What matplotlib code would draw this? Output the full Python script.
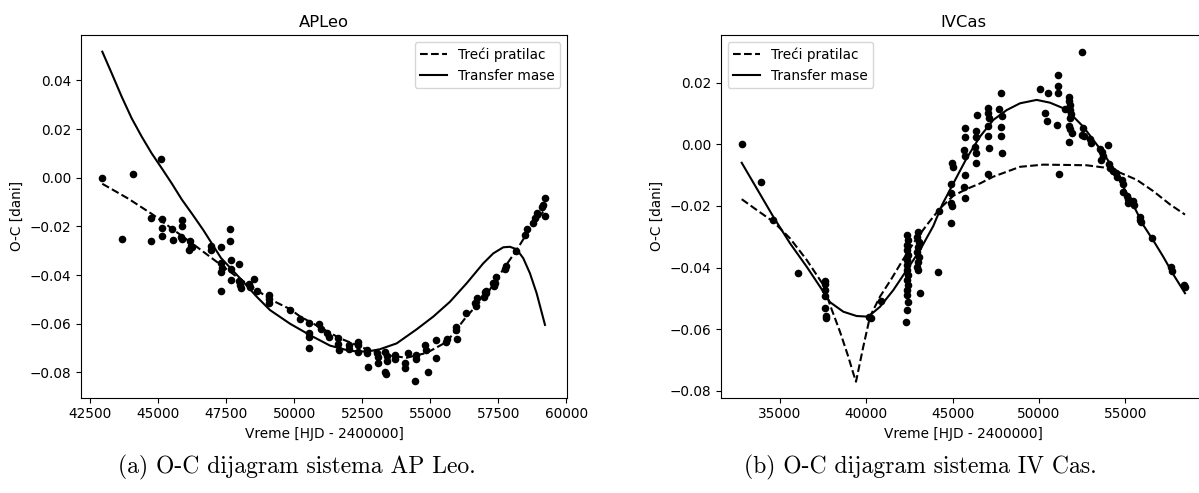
import matplotlib
matplotlib.use("Agg")
import matplotlib.pyplot as plt

# ---------------- AP Leo ----------------
apleo_t = [42941, 43676, 44081, 45088, 44721, 44732, 45147, 45147, 45125, 45504,
           45529, 45860, 45871, 45835, 45860, 46165, 46191, 46140, 46250, 46938,
           46938, 47305, 47647, 47647, 47684, 47294, 47331, 47305, 47684, 47978,
           47305, 47673, 47978, 48004, 48029, 48335, 48371, 48529, 48640, 49059,
           49059, 49081, 49842, 50210, 50551, 50540, 50540, 50551, 50919, 50971,
           51191, 51276, 51618, 51618, 51632, 51999, 52022, 52342, 52353, 52342,
           52684, 52684, 52699, 53051, 53088, 53066, 53346, 53397, 53397, 53335,
           53360, 53702, 53713, 54059, 54070, 54169, 54463, 54474, 54438, 54805,
           54842, 54904, 55210, 55210, 55566, 55625, 55934, 55945, 55971, 56324,
           56643, 56680, 56728, 57048, 57048, 57316, 59217, 59154, 59096, 59206,
           58912, 58849, 58787, 58544, 58482, 58151, 57783, 57746, 57415, 57379,
           57342, 57011, 56974]
apleo_oc = [0.0000, -0.0253, 0.0015, 0.0076, -0.0167, -0.0259, -0.0171, -0.0206, -0.0238, -0.0211,
            -0.0256, -0.0175, -0.0199, -0.0242, -0.0253, -0.0261, -0.0281, -0.0298, -0.0284, -0.0279,
            -0.0297, -0.0286, -0.0210, -0.0259, -0.0337, -0.0352, -0.0370, -0.0388, -0.0374, -0.0353,
            -0.0464, -0.0420, -0.0423, -0.0441, -0.0452, -0.0438, -0.0448, -0.0415, -0.0464, -0.0482,
            -0.0500, -0.0514, -0.0544, -0.0582, -0.0598, -0.0637, -0.0656, -0.0700, -0.0603, -0.0623,
            -0.0637, -0.0656, -0.0658, -0.0684, -0.0708, -0.0686, -0.0705, -0.0674, -0.0689, -0.0716,
            -0.0708, -0.0719, -0.0779, -0.0719, -0.0738, -0.0763, -0.0715, -0.0733, -0.0752, -0.0797,
            -0.0808, -0.0729, -0.0744, -0.0760, -0.0783, -0.0719, -0.0729, -0.0746, -0.0836, -0.0688,
            -0.0708, -0.0797, -0.0667, -0.0740, -0.0675, -0.0664, -0.0612, -0.0626, -0.0664, -0.0557,
            -0.0514, -0.0526, -0.0496, -0.0475, -0.0464, -0.0432, -0.0082, -0.0112, -0.0122, -0.0157,
            -0.0146, -0.0167, -0.0185, -0.0211, -0.0237, -0.0301, -0.0362, -0.0376, -0.0409, -0.0432,
            -0.0445, -0.0469, -0.0489]

apleo_lt_t = [42941, 43897, 44816, 46411, 47882, 49168, 49841, 50209, 50944, 51679,
              52660, 53396, 54131, 54866, 55601, 56336, 57071, 57746, 58175, 58481,
              59030, 59217]
apleo_lt_oc = [-0.0025, -0.0086, -0.0153, -0.0284, -0.0407, -0.0503, -0.0540, -0.0570, -0.0615, -0.0660,
               -0.0705, -0.0730, -0.0740, -0.0720, -0.0675, -0.0570, -0.0480, -0.0366, -0.0297, -0.0242,
               -0.0160, -0.0126]

apleo_mt_t = [42941, 43287, 43654, 44022, 44389, 44757, 45125, 45492, 45860, 46250,
              46654, 47305, 48003, 48617, 49106, 49841, 50576, 51311, 52047, 52661,
              53147, 53763, 54500, 55109, 55722, 56336, 56947, 57316, 57683, 57928,
              58173, 58418, 58664, 58910, 59217]
apleo_mt_oc = [0.0518, 0.0429, 0.0333, 0.0244, 0.0169, 0.0100, 0.0039, -0.0023, -0.0089, -0.0150,
               -0.0215, -0.0330, -0.0413, -0.0489, -0.0544, -0.0600, -0.0647, -0.0690, -0.0712, -0.0715,
               -0.0705, -0.0681, -0.0623, -0.0571, -0.0510, -0.0434, -0.0352, -0.0311, -0.0286, -0.0284,
               -0.0294, -0.0331, -0.0393, -0.0475, -0.0605]

# ---------------- IV Cas ----------------
ivcas_t = [32790, 33900, 34612, 36025, 37606, 37606, 37606, 37606, 37624, 37647,
           37647, 40172, 40271, 40870,
           42338, 42400, 42360, 42338, 42400, 42338, 42380, 42338, 42420, 42338,
           42400, 42338, 42380, 42400, 42338, 42300,
           43010, 42960, 43070, 43010, 42960, 43070, 43010, 42960, 43010, 43109,
           44169, 44227, 44904, 44945, 44904, 44904, 44904, 45003, 44945,
           45656, 45697, 45714, 45656, 45714, 45697, 45697,
           46352, 46352, 46312, 46352, 46352, 46428,
           47031, 47031, 47089, 47031, 47031, 47089, 47031,
           47800, 47703, 47877, 47800, 47800, 47841,
           50059, 50504, 51118, 51118, 51118, 50367, 50448, 51061, 51142, 51507,
           51756, 51756, 51780, 51797, 51838, 51797, 51739, 51797, 51913, 51756,
           52474, 52532, 52474, 52607, 52955, 52996, 54015, 53534, 53667, 53592,
           53690, 54072, 54113, 54304, 54460, 54536, 54808, 54849, 54849, 55081,
           55174, 55139, 55463, 55504, 55852, 55852, 55910, 56530, 57630, 57688,
           58418, 58459]
ivcas_oc = [0.0000, -0.0122, -0.0246, -0.0418, -0.0442, -0.0454, -0.0473, -0.0491, -0.0532, -0.0556,
            -0.0564, -0.0561, -0.0564, -0.0507,
            -0.0294, -0.0310, -0.0327, -0.0343, -0.0359, -0.0375, -0.0392, -0.0408, -0.0424, -0.0440,
            -0.0457, -0.0473, -0.0489, -0.0511, -0.0538, -0.0575,
            -0.0283, -0.0300, -0.0316, -0.0332, -0.0348, -0.0365, -0.0381, -0.0397, -0.0408, -0.0483,
            -0.0413, -0.0215, -0.0254, -0.0200, -0.0191, -0.0159, -0.0129, -0.0073, -0.0060,
            -0.0018, -0.0037, -0.0100, -0.0137, -0.0175, 0.0023, 0.0052,
            -0.0060, -0.0029, -0.0010, 0.0025, 0.0044, 0.0095,
            0.0117, 0.0102, 0.0084, 0.0059, 0.0028, -0.0011, -0.0096,
            0.0165, 0.0114, 0.0092, 0.0057, 0.0028, -0.0029,
            0.0179, 0.0166, 0.0224, 0.0189, 0.0167, 0.0101, 0.0076, 0.0062, -0.0095, 0.0115,
            0.0154, 0.0140, 0.0126, 0.0111, 0.0097, 0.0086, 0.0059, 0.0049, 0.0036, 0.0007,
            0.0300, 0.0054, 0.0030, 0.0027, 0.0017, 0.0005, -0.0002, -0.0016, -0.0024, -0.0051,
            -0.0038, -0.0065, -0.0076, -0.0086, -0.0094, -0.0107, -0.0116, -0.0130, -0.0154, -0.0168,
            -0.0178, -0.0189, -0.0184, -0.0197, -0.0237, -0.0246, -0.0253, -0.0305, -0.0399, -0.0410,
            -0.0456, -0.0462]

ivcas_lt_t = [32782, 33650, 34612, 35579, 36545, 37508, 37896, 38475, 38956, 39246,
              39402, 39825, 40213, 40792, 41470, 42049, 42721, 43497, 44267, 45038,
              45811, 46584, 47355, 48131, 48903, 50250, 51602, 52760, 53726, 54692,
              55656, 56622, 57588, 58458]
ivcas_lt_oc = [-0.0178, -0.0213, -0.0251, -0.0305, -0.0375, -0.0456, -0.0521, -0.0608, -0.0689, -0.0743,
               -0.0770, -0.0656, -0.0559, -0.0494, -0.0435, -0.0381, -0.0321, -0.0262, -0.0208, -0.0167,
               -0.0145, -0.0127, -0.0105, -0.0089, -0.0073, -0.0066, -0.0067, -0.0068, -0.0075, -0.0092,
               -0.0115, -0.0152, -0.0195, -0.0228]

ivcas_mt_t = [32782, 33650, 34612, 35579, 36545, 37508, 37896, 38667, 39442, 40114,
              40792, 41562, 42338, 43109, 43879, 44400, 45038, 45811, 46584, 47355,
              48131, 48903, 49868, 50638, 51409, 51988, 52567, 53147, 53726, 54305,
              54884, 55463, 56042, 56622, 57201, 57780, 58458]
ivcas_mt_oc = [-0.0060, -0.0143, -0.0235, -0.0321, -0.0397, -0.0478, -0.0512, -0.0543, -0.0557, -0.0559,
               -0.0527, -0.0473, -0.0408, -0.0343, -0.0265, -0.0195, -0.0127, -0.0045, 0.0025, 0.0079,
               0.0111, 0.0133, 0.0144, 0.0135, 0.0117, 0.0090, 0.0057, 0.0014, -0.0029, -0.0078,
               -0.0138, -0.0197, -0.0262, -0.0312, -0.0365, -0.0422, -0.0483]

titles = ["APLeo", "IVCas"]
captions = ["(a) O-C dijagram sistema AP Leo.", "(b) O-C dijagram sistema IV Cas."]
xlabel = "Vreme [HJD - 2400000]"
ylabel = "O-C [dani]"
legend_labels = ["Treći pratilac", "Transfer mase"]

W, H = 1199, 493
fig = plt.figure(figsize=(W / 100, H / 100), dpi=100)

def ax_rect(x0, x1, y0, y1):
    return [x0 / W, 1 - y1 / H, (x1 - x0) / W, (y1 - y0) / H]

ax1 = fig.add_axes(ax_rect(81, 567.3, 35, 397.7))
ax2 = fig.add_axes(ax_rect(720.7, 1206, 35, 397.7))

panels = [
    (ax1, apleo_t, apleo_oc, apleo_lt_t, apleo_lt_oc, apleo_mt_t, apleo_mt_oc,
     (42158, 60037), (-0.09042, 0.05865), "upper right",
     [42500, 45000, 47500, 50000, 52500, 55000, 57500, 60000]),
    (ax2, ivcas_t, ivcas_oc, ivcas_lt_t, ivcas_lt_oc, ivcas_mt_t, ivcas_mt_oc,
     (31565, 59674), (-0.08219, 0.03545), "upper left",
     [35000, 40000, 45000, 50000, 55000]),
]

for i, (ax, t, oc, lt_t, lt_oc, mt_t, mt_oc, xl, yl, loc, xt) in enumerate(panels):
    ax.scatter(t, oc, s=20, color="black", zorder=2)
    ax.plot(lt_t, lt_oc, "--", color="black", lw=1.5, label=legend_labels[0], zorder=3)
    ax.plot(mt_t, mt_oc, "-", color="black", lw=1.5, label=legend_labels[1], zorder=3)
    ax.set_xlim(*xl)
    ax.set_ylim(*yl)
    ax.set_xticks(xt)
    ax.set_title(titles[i], fontsize=11.8)
    ax.set_xlabel(xlabel, fontsize=9.8)
    ax.set_ylabel(ylabel, fontsize=9.8)
    ax.tick_params(labelsize=9.8)
    ax.legend(loc=loc, fontsize=9.8)

fig.text(297 / W, 1 - 467 / H, captions[0], family="cmr10", fontsize=17,
         ha="center", va="center")
fig.text(920 / W, 1 - 467 / H, captions[1], family="cmr10", fontsize=17,
         ha="center", va="center")

fig.savefig("out.png", dpi=100)
